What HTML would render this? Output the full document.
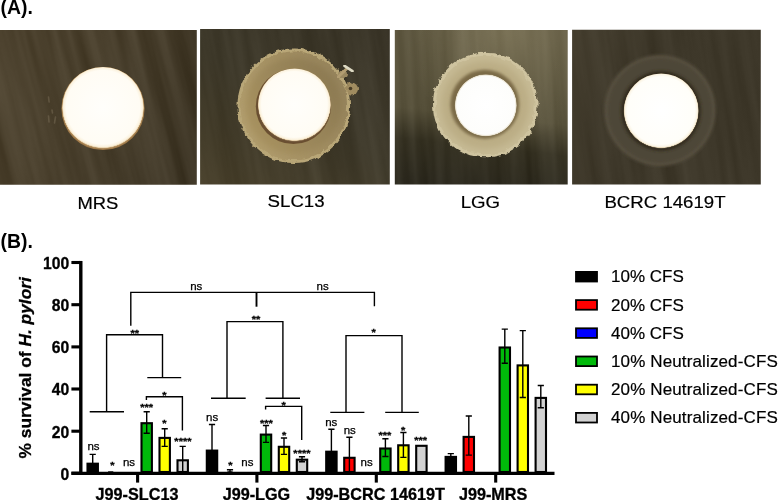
<!DOCTYPE html>
<html lang="en"><head><meta charset="utf-8"><title>Figure</title>
<style>
html,body{margin:0;padding:0;background:#fff;}
body{width:778px;height:500px;overflow:hidden;position:relative;font-family:"Liberation Sans",Arial,sans-serif;}
svg{position:absolute;left:0;top:0;display:block;}
text{font-family:"Liberation Sans",Arial,sans-serif;fill:#000;}
.b{font-weight:bold;}
.ln{stroke:#000;stroke-width:1.4;fill:none;}
.ax{stroke:#000;stroke-width:3.4;fill:none;}
.tk{stroke:#000;stroke-width:3.1;fill:none;}
.bar{stroke:#000;stroke-width:2.1;}
.sig{font-size:11.5px;text-anchor:middle;stroke:#000;stroke-width:0.25;}
.st{font-size:11px;text-anchor:middle;font-weight:bold;stroke:#000;stroke-width:0.35;}
.lab{font-size:16.8px;text-anchor:middle;stroke:#000;stroke-width:0.2;}
.leg{font-size:17px;stroke:#000;stroke-width:0.2;}
.grp{font-size:16.2px;font-weight:bold;text-anchor:middle;stroke:#000;stroke-width:0.3;}
.yt{font-size:15.7px;font-weight:bold;text-anchor:end;stroke:#000;stroke-width:0.3;}
</style></head><body>
<svg width="778" height="500" viewBox="0 0 778 500">
<defs>
<filter id="rough" x="-10%" y="-10%" width="120%" height="120%">
<feTurbulence type="fractalNoise" baseFrequency="0.16" numOctaves="3" seed="3" result="n"/>
<feDisplacementMap in="SourceGraphic" in2="n" scale="5" xChannelSelector="R" yChannelSelector="G"/>
<feGaussianBlur stdDeviation="0.6"/>
</filter>
<filter id="soft"><feGaussianBlur stdDeviation="0.6"/></filter>
<filter id="soft1"><feGaussianBlur stdDeviation="1.4"/></filter>
<filter id="soft2"><feGaussianBlur stdDeviation="3"/></filter>
<filter id="tex1" x="0" y="0" width="100%" height="100%" color-interpolation-filters="sRGB">
<feTurbulence type="fractalNoise" baseFrequency="0.07 0.004" numOctaves="3" seed="5" result="n"/>
<feColorMatrix in="n" type="matrix" values="1 0 0 0 0  1 0 0 0 0  1 0 0 0 0  0 0 0 0 1" result="g"/>
<feComposite in="SourceGraphic" in2="g" operator="arithmetic" k1="0" k2="1" k3="0.12" k4="-0.06"/>
</filter>
<filter id="tex2" x="0" y="0" width="100%" height="100%" color-interpolation-filters="sRGB">
<feTurbulence type="fractalNoise" baseFrequency="0.07 0.004" numOctaves="3" seed="11" result="n"/>
<feColorMatrix in="n" type="matrix" values="1 0 0 0 0  1 0 0 0 0  1 0 0 0 0  0 0 0 0 1" result="g"/>
<feComposite in="SourceGraphic" in2="g" operator="arithmetic" k1="0" k2="1" k3="0.09" k4="-0.045"/>
</filter>
<filter id="tex3" x="0" y="0" width="100%" height="100%" color-interpolation-filters="sRGB">
<feTurbulence type="fractalNoise" baseFrequency="0.07 0.004" numOctaves="3" seed="17" result="n"/>
<feColorMatrix in="n" type="matrix" values="1 0 0 0 0  1 0 0 0 0  1 0 0 0 0  0 0 0 0 1" result="g"/>
<feComposite in="SourceGraphic" in2="g" operator="arithmetic" k1="0" k2="1" k3="0.12" k4="-0.06"/>
</filter>
<filter id="tex4" x="0" y="0" width="100%" height="100%" color-interpolation-filters="sRGB">
<feTurbulence type="fractalNoise" baseFrequency="0.07 0.004" numOctaves="3" seed="23" result="n"/>
<feColorMatrix in="n" type="matrix" values="1 0 0 0 0  1 0 0 0 0  1 0 0 0 0  0 0 0 0 1" result="g"/>
<feComposite in="SourceGraphic" in2="g" operator="arithmetic" k1="0" k2="1" k3="0.08" k4="-0.04"/>
</filter>
<linearGradient id="h2" x1="0" y1="0.7" x2="1" y2="0.3">
<stop offset="0" stop-color="#b29e6e"/><stop offset="0.5" stop-color="#a38f62"/><stop offset="1" stop-color="#94825a"/>
</linearGradient>
<linearGradient id="h2m" x1="0" y1="0.8" x2="1" y2="0.2">
<stop offset="0" stop-color="#a9935f"/><stop offset="0.5" stop-color="#9a865a"/><stop offset="1" stop-color="#8a7850"/>
</linearGradient>
<linearGradient id="bg1" x1="0" y1="0" x2="1" y2="0.6">
<stop offset="0" stop-color="#4d422e"/><stop offset="0.5" stop-color="#483e2b"/><stop offset="1" stop-color="#3f3727"/>
</linearGradient>
<linearGradient id="bg2" x1="0" y1="1" x2="1" y2="0">
<stop offset="0" stop-color="#51472f"/><stop offset="0.5" stop-color="#3e392a"/><stop offset="1" stop-color="#353024"/>
</linearGradient>
<linearGradient id="bg3" x1="0.0875" y1="0" x2="-0.0875" y2="1">
<stop offset="0.09" stop-color="#5f5841"/><stop offset="0.45" stop-color="#58523c"/><stop offset="0.58" stop-color="#383425"/><stop offset="0.75" stop-color="#2f2c21"/>
</linearGradient>
<radialGradient id="hl3" cx="0.5" cy="0.5" r="0.5">
<stop offset="0" stop-color="#fff0c0" stop-opacity="0.18"/><stop offset="1" stop-color="#fff0c0" stop-opacity="0"/>
</radialGradient>
<linearGradient id="bg4" x1="0" y1="0" x2="1" y2="0.5">
<stop offset="0" stop-color="#494232"/><stop offset="0.5" stop-color="#3d3729"/><stop offset="1" stop-color="#3f392b"/>
</linearGradient>
<radialGradient id="disk" cx="0.5" cy="0.492" r="0.5">
<stop offset="0" stop-color="#fffefb"/><stop offset="0.9" stop-color="#fffcf4"/><stop offset="0.965" stop-color="#fbf2de"/><stop offset="0.99" stop-color="#e9d3ad"/><stop offset="1" stop-color="#e9d3ad" stop-opacity="0.3"/>
</radialGradient>
<radialGradient id="disk4" cx="0.5" cy="0.495" r="0.5">
<stop offset="0" stop-color="#ffffff"/><stop offset="0.9" stop-color="#fffef9"/><stop offset="0.965" stop-color="#fbf5e6"/><stop offset="0.99" stop-color="#e4d4b4"/><stop offset="1" stop-color="#e4d4b4" stop-opacity="0.3"/>
</radialGradient>
<radialGradient id="diskw" cx="0.5" cy="0.5" r="0.5">
<stop offset="0" stop-color="#ffffff"/><stop offset="0.94" stop-color="#fdfdfb"/><stop offset="0.985" stop-color="#e6dfcc"/><stop offset="1" stop-color="#e6dfcc" stop-opacity="0.3"/>
</radialGradient>
<clipPath id="c1"><rect x="0" y="29.9" width="196.8" height="154.8"/></clipPath>
<clipPath id="c2"><rect x="200.1" y="29" width="189.7" height="155.6"/></clipPath>
<clipPath id="c3"><rect x="394.8" y="29.9" width="172.9" height="154.7"/></clipPath>
<clipPath id="c4"><rect x="572.1" y="29.8" width="188.7" height="154.7"/></clipPath>
</defs>
<rect width="778" height="500" fill="#fff"/>

<text x="0.5" y="13.9" class="b" font-size="19.4">(A).</text>
<g clip-path="url(#c1)"><rect x="-40" y="-10.100000000000001" width="276.8" height="234.8" fill="url(#bg1)" filter="url(#tex1)" transform="rotate(-14 98.4 107.30000000000001)"/>
<path d="M48.5 97l0.6 5M48.5 116l0.5 6M55.5 117l-1 6M52 110l0.5 3" stroke="#8f826a" stroke-width="1.6" stroke-linecap="round" opacity="0.35" filter="url(#soft)"/><circle cx="103" cy="108.5" r="41.6" fill="#a07a48" filter="url(#soft)"/><circle cx="103" cy="107.9" r="40.9" fill="url(#disk)"/>
</g>
<g clip-path="url(#c2)"><rect x="160.1" y="-11" width="269.7" height="235.6" fill="url(#bg2)" filter="url(#tex2)" transform="rotate(-10 294.95 106.8)"/>
<g filter="url(#rough)"><ellipse cx="293.8" cy="105.8" rx="54.8" ry="55.8" fill="url(#h2)" stroke="#b9a778" stroke-width="3"/><circle cx="343" cy="74" r="5" fill="#9a8860"/><circle cx="351.5" cy="89" r="6.5" fill="#a08c60"/></g><circle cx="294" cy="105.8" r="48" fill="url(#h2m)" filter="url(#soft2)"/><circle cx="293.4" cy="106.4" r="37.6" fill="#6b5030" filter="url(#soft)"/><circle cx="294.4" cy="105" r="36.5" fill="url(#disk)"/><path d="M346.5 69L338 77" stroke="#b29d72" stroke-width="3" stroke-linecap="round" filter="url(#soft)"/><path d="M344.5 65.8L352.5 71.2" stroke="#dedac4" stroke-width="2.6" stroke-linecap="round" filter="url(#soft)"/><circle cx="350.5" cy="88.5" r="1.8" fill="#4a3c26" filter="url(#soft)"/>
</g>
<g clip-path="url(#c3)"><rect x="354.8" y="-10.100000000000001" width="252.9" height="234.7" fill="url(#bg3)" filter="url(#tex3)" transform="rotate(-3 481.25 107.25)"/>
<ellipse cx="506" cy="32" rx="100" ry="112" fill="url(#hl3)"/><g filter="url(#rough)"><circle cx="485.3" cy="105" r="50.8" fill="#c6ba94" stroke="#cfc4a0" stroke-width="3"/></g><circle cx="485.3" cy="105" r="44" fill="#bbad85" filter="url(#soft2)"/><circle cx="484.8" cy="104.2" r="34.5" fill="#7a6a46" filter="url(#soft1)"/><circle cx="485.8" cy="105.3" r="31" fill="url(#diskw)"/>
</g>
<g clip-path="url(#c4)"><rect x="532.1" y="-10.2" width="268.7" height="234.7" fill="url(#bg4)" filter="url(#tex4)" transform="rotate(-8 666.45 107.14999999999999)"/>
<circle cx="660" cy="110.5" r="55.5" fill="#575040" filter="url(#soft1)"/><circle cx="660" cy="110.5" r="52.5" fill="#4e4737" filter="url(#soft1)"/><circle cx="661" cy="110.9" r="40" fill="#322b1e" filter="url(#soft1)"/><circle cx="661.2" cy="110.9" r="37.5" fill="url(#disk4)"/>
</g>
<text class="lab" transform="translate(97.9 208.6) scale(1.095 1)">MRS</text>
<text class="lab" transform="translate(296.1 207.4) scale(1.11 1)">SLC13</text>
<text class="lab" transform="translate(480.4 207.6) scale(1.11 1)">LGG</text>
<text class="lab" transform="translate(665 208) scale(1.11 1)">BCRC 14619T</text>
<text x="0.5" y="247.9" class="b" font-size="19.4">(B).</text>
<text class="b" font-size="17.35" stroke="#000" stroke-width="0.3" transform="translate(31.3 458.4) rotate(-90)">% survival of <tspan font-style="italic">H. pylori</tspan></text>
<path class="ax" d="M80.8 260.95V474"/>
<path class="ax" d="M71.4 473.4H554.5"/>
<path class="tk" d="M71.4 473.2H80"/>
<text class="yt" x="69.2" y="479.5">0</text>
<path class="tk" d="M71.4 431.2H80"/>
<text class="yt" x="69.2" y="437.5">20</text>
<path class="tk" d="M71.4 389.0H80"/>
<text class="yt" x="69.2" y="395.3">40</text>
<path class="tk" d="M71.4 346.9H80"/>
<text class="yt" x="69.2" y="353.2">60</text>
<path class="tk" d="M71.4 304.7H80"/>
<text class="yt" x="69.2" y="311.0">80</text>
<path class="tk" d="M71.4 262.5H80"/>
<text class="yt" x="69.2" y="268.8">100</text>
<path class="tk" style="stroke-width:3.1" d="M137.6 473V482.6"/>
<text class="grp" x="137.0" y="499.9">J99-SLC13</text>
<path class="tk" style="stroke-width:3.1" d="M256.9 473V482.6"/>
<text class="grp" x="256.4" y="499.9">J99-LGG</text>
<path class="tk" style="stroke-width:3.1" d="M376.3 473V482.6"/>
<text class="grp" x="375.5" y="499.9">J99-BCRC 14619T</text>
<path class="tk" style="stroke-width:3.1" d="M495.7 473V482.6"/>
<text class="grp" x="493.1" y="499.9">J99-MRS</text>
<rect class="bar" x="87.5" y="463.7" width="10.4" height="8.3" fill="#000000"/>
<path class="ln" d="M92.7 454.4V471.5M89.6 454.4H95.8"/>
<rect x="108.1" y="471.3" width="5.2" height="1.4" fill="#000"/>
<rect class="bar" x="141.5" y="423.2" width="10.4" height="48.8" fill="#00b90a"/>
<path class="ln" d="M146.7 411.8V433.3M143.6 411.8H149.8M143.6 433.3H149.8"/>
<rect class="bar" x="159.5" y="437.9" width="10.4" height="34.1" fill="#ffff00"/>
<path class="ln" d="M164.7 428.7V446.4M161.6 428.7H167.8M161.6 446.4H167.8"/>
<rect class="bar" x="177.5" y="460.3" width="10.4" height="11.7" fill="#d2d2d2"/>
<path class="ln" d="M182.7 446.4V471.5M179.6 446.4H185.8"/>
<rect class="bar" x="206.8" y="450.6" width="10.4" height="21.4" fill="#000000"/>
<path class="ln" d="M212.0 424.5V450.2M208.9 424.5H215.1"/>
<rect x="227.4" y="471.3" width="5.2" height="1.4" fill="#000"/>
<path class="ln" d="M230.0 469.8V472.6M226.9 469.8H233.1"/>
<rect class="bar" x="260.8" y="434.6" width="10.4" height="37.4" fill="#00b90a"/>
<path class="ln" d="M266.0 425.5V442.4M262.9 425.5H269.1M262.9 442.4H269.1"/>
<rect class="bar" x="278.8" y="446.8" width="10.4" height="25.2" fill="#ffff00"/>
<path class="ln" d="M284.0 438.0V454.4M280.9 438.0H287.1M280.9 454.4H287.1"/>
<rect class="bar" x="296.8" y="459.7" width="10.4" height="12.3" fill="#d2d2d2"/>
<path class="ln" d="M302.0 456.7V461.8M298.9 456.7H305.1M298.9 461.8H305.1"/>
<rect class="bar" x="326.2" y="451.7" width="10.4" height="20.3" fill="#000000"/>
<path class="ln" d="M331.4 429.3V451.3M328.3 429.3H334.5"/>
<rect class="bar" x="344.2" y="457.8" width="10.4" height="14.2" fill="#ff0000"/>
<path class="ln" d="M349.4 437.3V471.5M346.3 437.3H352.5"/>
<rect class="bar" x="380.2" y="448.5" width="10.4" height="23.5" fill="#00b90a"/>
<path class="ln" d="M385.4 438.8V456.5M382.3 438.8H388.5M382.3 456.5H388.5"/>
<rect class="bar" x="398.2" y="445.3" width="10.4" height="26.7" fill="#ffff00"/>
<path class="ln" d="M403.4 432.5V457.4M400.3 432.5H406.5M400.3 457.4H406.5"/>
<rect class="bar" x="416.2" y="445.8" width="10.4" height="26.2" fill="#d2d2d2"/>
<rect class="bar" x="445.6" y="456.9" width="10.4" height="15.1" fill="#000000"/>
<path class="ln" d="M450.8 453.6V456.5M447.7 453.6H453.9"/>
<rect class="bar" x="463.6" y="436.9" width="10.4" height="35.1" fill="#ff0000"/>
<path class="ln" d="M468.8 416.0V455.1M465.7 416.0H471.9M465.7 455.1H471.9"/>
<rect class="bar" x="499.6" y="347.5" width="10.4" height="124.5" fill="#00b90a"/>
<path class="ln" d="M504.8 329.1V363.3M501.7 329.1H507.9M501.7 363.3H507.9"/>
<rect class="bar" x="517.6" y="365.4" width="10.4" height="106.6" fill="#ffff00"/>
<path class="ln" d="M522.8 330.6V397.5M519.7 330.6H525.9M519.7 397.5H525.9"/>
<rect class="bar" x="535.6" y="397.9" width="10.4" height="74.1" fill="#d2d2d2"/>
<path class="ln" d="M540.8 385.5V407.8M537.7 385.5H543.9M537.7 407.8H543.9"/>
<text class="sig" x="93.5" y="450.1">ns</text>
<text class="st" transform="translate(112.3 467.7) scale(1 0.74)">*</text>
<text class="sig" x="129" y="465.8">ns</text>
<text class="st" transform="translate(146.6 410.3) scale(1 0.74)">***</text>
<text class="st" transform="translate(164.4 425.6) scale(1 0.74)">*</text>
<text class="st" transform="translate(182.9 444.3) scale(1 0.74)">****</text>
<text class="sig" x="212.2" y="420.8">ns</text>
<text class="st" transform="translate(230.3 467.7) scale(1 0.74)">*</text>
<text class="sig" x="247.4" y="465.8">ns</text>
<text class="st" transform="translate(266.4 425.6) scale(1 0.74)">***</text>
<text class="st" transform="translate(284.1 437.6) scale(1 0.74)">*</text>
<text class="st" transform="translate(301.9 455.9) scale(1 0.74)">****</text>
<text class="sig" x="331.3" y="426.1">ns</text>
<text class="sig" x="349.8" y="433.8">ns</text>
<text class="sig" x="366.6" y="465.8">ns</text>
<text class="st" transform="translate(384.8 438.3) scale(1 0.74)">***</text>
<text class="st" transform="translate(403.2 432.8) scale(1 0.74)">*</text>
<text class="st" transform="translate(420.7 442.7) scale(1 0.74)">***</text>
<path class="ln" d="M130.8 325.7V292.4H374.4V306.3"/>
<path class="ln" style="stroke-width:1.9" d="M256.5 292.4V306.7"/>
<text class="sig" x="196.3" y="289.5">ns</text>
<text class="sig" x="322.6" y="289.5">ns</text>
<path class="ln" d="M89.7 411.8H124M106.6 411.8V334.7H162.5V377.6M147.3 377.6H181.2"/>
<text class="st" transform="translate(134.8 335.5) scale(1 0.74)">**</text>
<path class="ln" d="M146.4 400V396.8H182.4V430.6"/>
<text class="st" transform="translate(164.4 397.5) scale(1 0.74)">*</text>
<path class="ln" d="M211 398.3H245.7M227 398.3V321.6H282.9V398.3M265.6 398.3H300"/>
<text class="st" transform="translate(256 321.6) scale(1 0.74)">**</text>
<path class="ln" d="M265.6 409.5V406.4H301.7V440"/>
<text class="st" transform="translate(283.7 407.8) scale(1 0.74)">*</text>
<path class="ln" d="M330.3 412.4H364.4M346 412.4V335.6H402V412.4M385.2 412.4H418.8"/>
<text class="st" transform="translate(373.7 335.3) scale(1 0.74)">*</text>
<rect x="576" y="271.9" width="21" height="9.6" fill="#000000" stroke="#000" stroke-width="1.8"/>
<text class="leg" x="611" y="282.4">10% CFS</text>
<rect x="576" y="300.1" width="21" height="9.6" fill="#ff0000" stroke="#000" stroke-width="1.8"/>
<text class="leg" x="611" y="310.6">20% CFS</text>
<rect x="576" y="328.3" width="21" height="9.6" fill="#0000ff" stroke="#000" stroke-width="1.8"/>
<text class="leg" x="611" y="338.8">40% CFS</text>
<rect x="576" y="356.5" width="21" height="9.6" fill="#00b90a" stroke="#000" stroke-width="1.8"/>
<text class="leg" x="611" letter-spacing="0.13" y="367.0">10% Neutralized-CFS</text>
<rect x="576" y="384.7" width="21" height="9.6" fill="#ffff00" stroke="#000" stroke-width="1.8"/>
<text class="leg" x="611" letter-spacing="0.13" y="395.2">20% Neutralized-CFS</text>
<rect x="576" y="412.9" width="21" height="9.6" fill="#d2d2d2" stroke="#000" stroke-width="1.8"/>
<text class="leg" x="611" letter-spacing="0.13" y="423.4">40% Neutralized-CFS</text>
</svg></body></html>
